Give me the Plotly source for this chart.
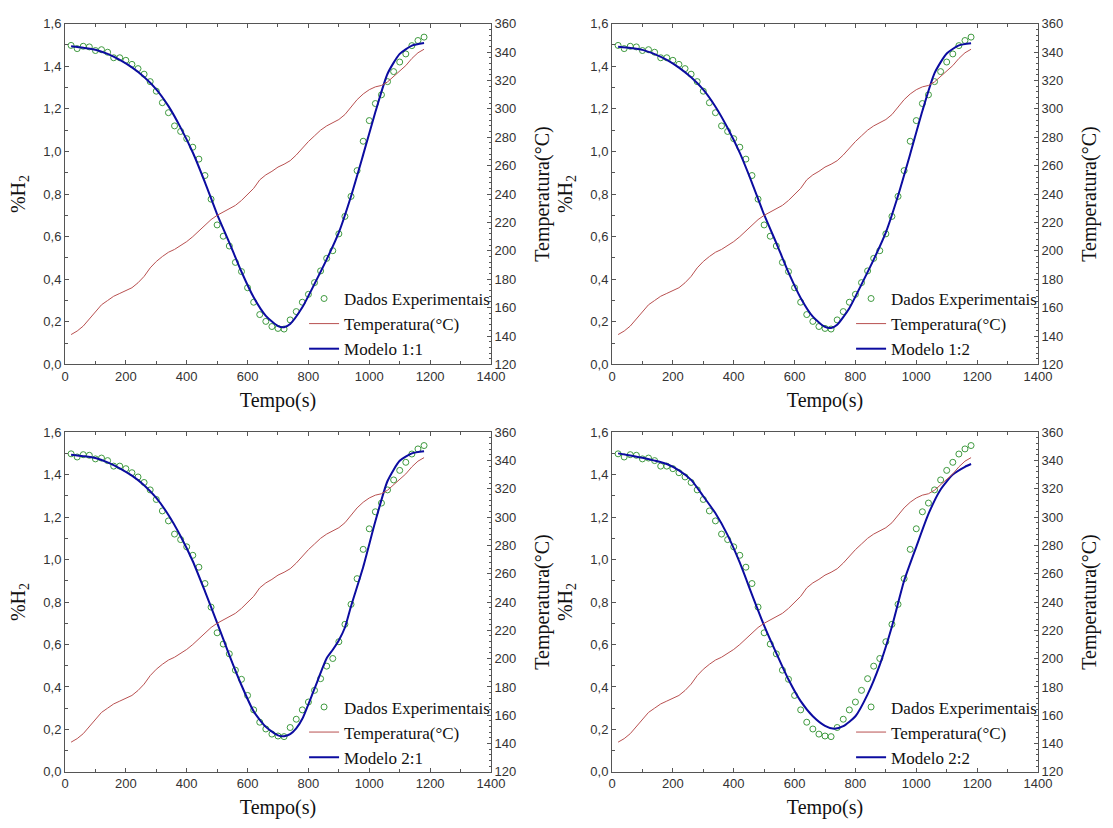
import plotly.graph_objects as go

# ---- experimental data (shared by all four panels) ----
tempo = [20, 40, 60, 80, 100, 120, 140, 160, 180, 200, 220, 240, 260, 280, 300,
         320, 340, 360, 380, 400, 420, 440, 460, 480, 500, 520, 540, 560, 580, 600,
         620, 640, 660, 680, 700, 720, 740, 760, 780, 800, 820, 840, 860, 880, 900,
         920, 940, 960, 980, 1000, 1020, 1040, 1060, 1080, 1100, 1120, 1140, 1160, 1180]

h2_exp = [1.498, 1.483, 1.494, 1.491, 1.474, 1.478, 1.466, 1.440, 1.440, 1.428,
          1.409, 1.389, 1.363, 1.328, 1.283, 1.229, 1.182, 1.120, 1.094, 1.060,
          1.020, 0.964, 0.887, 0.776, 0.655, 0.602, 0.556, 0.479, 0.436, 0.360,
          0.292, 0.234, 0.202, 0.178, 0.169, 0.166, 0.209, 0.248, 0.292, 0.329,
          0.384, 0.439, 0.498, 0.534, 0.613, 0.695, 0.789, 0.910, 1.048, 1.145,
          1.225, 1.266, 1.328, 1.375, 1.420, 1.458, 1.497, 1.521, 1.537]

temperatura = [141, 143.5, 147, 152, 157, 162, 165, 168, 170, 172,
               174, 177.5, 182, 188, 192.5, 196, 199, 201, 203.5, 206.5,
               210, 214, 218, 222, 225, 227.5, 230, 232, 235.5, 239.5,
               244, 250, 253.5, 256, 259, 261, 263.5, 267.5, 272.5, 277,
               281, 285, 288, 290, 292.5, 296, 301, 306.5, 310.5, 313.5,
               315.5, 316.5, 319, 323, 326.5, 330.5, 335.5, 339.5, 342]

# ---- model curves ----
t_m11 = [20, 60, 100, 140, 180, 220, 260, 300, 340, 380, 420, 460, 500, 540, 580,
         620, 660, 700, 720, 740, 780, 820, 860, 900, 940, 980, 1020, 1060, 1100,
         1140, 1180]
h2_m11 = [1.494, 1.487, 1.478, 1.458, 1.430, 1.395, 1.350, 1.292, 1.213, 1.112,
          0.995, 0.855, 0.705, 0.572, 0.435, 0.315, 0.228, 0.180, 0.175, 0.190,
          0.268, 0.378, 0.493, 0.620, 0.790, 0.985, 1.185, 1.365, 1.458, 1.497, 1.509]

t_m12 = [20, 60, 100, 140, 180, 220, 260, 300, 340, 380, 420, 460, 500, 540, 580,
         620, 660, 700, 720, 740, 780, 820, 860, 900, 940, 980, 1020, 1060, 1100,
         1140, 1180]
h2_m12 = [1.492, 1.486, 1.477, 1.457, 1.430, 1.394, 1.348, 1.290, 1.210, 1.110,
          0.993, 0.853, 0.703, 0.570, 0.432, 0.312, 0.224, 0.176, 0.171, 0.186,
          0.264, 0.376, 0.492, 0.620, 0.792, 0.988, 1.190, 1.368, 1.460, 1.498, 1.508]

t_m21 = [20, 60, 100, 140, 180, 220, 260, 300, 340, 380, 420, 460, 500, 540, 580,
         620, 660, 700, 720, 740, 760, 780, 820, 860, 880, 900, 920, 940, 980, 1020,
         1060, 1100, 1140, 1180]
h2_m21 = [1.494, 1.487, 1.478, 1.458, 1.430, 1.395, 1.350, 1.290, 1.210, 1.110,
          0.992, 0.850, 0.702, 0.550, 0.408, 0.285, 0.212, 0.172, 0.168, 0.178,
          0.205, 0.250, 0.392, 0.535, 0.575, 0.620, 0.680, 0.780, 0.965, 1.180,
          1.370, 1.465, 1.500, 1.510]

t_m22 = [20, 60, 100, 140, 180, 220, 260, 300, 340, 380, 420, 460, 500, 540, 580,
         620, 660, 700, 730, 760, 800, 840, 880, 920, 960, 1000, 1040, 1080, 1120,
         1160, 1180]
h2_m22 = [1.500, 1.490, 1.479, 1.466, 1.450, 1.420, 1.375, 1.298, 1.218, 1.115,
          0.985, 0.835, 0.689, 0.559, 0.435, 0.333, 0.262, 0.217, 0.203, 0.215,
          0.262, 0.365, 0.504, 0.685, 0.900, 1.060, 1.215, 1.330, 1.400, 1.437, 1.450]

modelos = [("Modelo 1:1", t_m11, h2_m11),
           ("Modelo 1:2", t_m12, h2_m12),
           ("Modelo 2:1", t_m21, h2_m21),
           ("Modelo 2:2", t_m22, h2_m22)]

# ---- styling ----
W, H = 1113, 828
COR_EXP = "#3f9a3f"
COR_TEMP = "#b85050"
COR_MOD = "#0c0ca0"
COR_EIXO = "#555555"
FONTE_TICK = dict(family="Liberation Sans", size=13, color="#333333")
FONTE_TIT = dict(family="Liberation Serif", size=20, color="#111111")
FONTE_LEG = dict(family="Liberation Serif", size=17, color="#111111")

# panel boxes in pixels: (left, right, top, bottom)
paineis = [(62, 495, 17, 364), (618, 1051, 17, 364),
           (62, 495, 433, 779), (618, 1051, 433, 779)]

fig = go.Figure()
layout = {}

for i, ((nome, t_mod, h_mod), (x0, x1, y0, y1)) in enumerate(zip(modelos, paineis)):
    k = i + 1
    xa = "x" if k == 1 else f"x{k}"
    ya = "y" if k == 1 else f"y{2 * k - 1}"
    yb = f"y{2 * k}"
    leg = "legend" if k == 1 else f"legend{k}"

    fig.add_trace(go.Scatter(
        x=tempo, y=h2_exp, mode="markers", name="Dados Experimentais",
        marker=dict(symbol="circle-open", size=6, color=COR_EXP, line=dict(width=1, color=COR_EXP)),
        xaxis=xa, yaxis=ya, legend=leg))
    fig.add_trace(go.Scatter(
        x=tempo, y=temperatura, mode="lines", name="Temperatura(°C)",
        line=dict(color=COR_TEMP, width=1),
        xaxis=xa, yaxis=yb, legend=leg))
    fig.add_trace(go.Scatter(
        x=t_mod, y=h_mod, mode="lines", name=nome,
        line=dict(color=COR_MOD, width=2, shape="spline", smoothing=0.6),
        xaxis=xa, yaxis=ya, legend=leg))

    dom_x = [x0 / W, x1 / W]
    dom_y = [1 - y1 / H, 1 - y0 / H]

    xkey = "xaxis" if k == 1 else f"xaxis{k}"
    yk1 = "yaxis" if k == 1 else f"yaxis{2 * k - 1}"
    yk2 = f"yaxis{2 * k}"

    layout[xkey] = dict(
        domain=dom_x, anchor=ya, range=[0, 1400], dtick=200, tick0=0,
        showgrid=False, zeroline=False, showline=True, linecolor=COR_EIXO, linewidth=1,
        mirror="ticks", ticks="inside", ticklen=4, tickcolor=COR_EIXO,
        minor=dict(dtick=100, ticks="inside", ticklen=3, tickcolor=COR_EIXO),
        tickfont=FONTE_TICK,
        title=dict(text="Tempo(s)", font=FONTE_TIT, standoff=9))
    layout[yk1] = dict(
        domain=dom_y, anchor=xa, range=[0, 1.6], dtick=0.2, tick0=0,
        tickformat=".1f",
        showgrid=False, zeroline=False, showline=True, linecolor=COR_EIXO, linewidth=1,
        ticks="inside", ticklen=4, tickcolor=COR_EIXO,
        minor=dict(dtick=0.1, ticks="inside", ticklen=3, tickcolor=COR_EIXO),
        tickfont=FONTE_TICK,
        title=dict(text="%H<sub>2</sub>", font=FONTE_TIT, standoff=12))
    layout[yk2] = dict(
        domain=dom_y, anchor=xa, overlaying=ya, side="right",
        range=[120, 360], dtick=20, tick0=120,
        showgrid=False, zeroline=False, showline=True, linecolor=COR_EIXO, linewidth=1,
        ticks="inside", ticklen=4, tickcolor=COR_EIXO,
        minor=dict(dtick=4, ticks="inside", ticklen=2, tickcolor=COR_EIXO),
        tickfont=FONTE_TICK,
        title=dict(text="Temperatura(°C)", font=FONTE_TIT, standoff=19))

    layout[leg] = dict(
        x=(x0 + 243) / W, y=1 - (y0 + 262) / H, xanchor="left", yanchor="top",
        bgcolor="rgba(255,255,255,0)", borderwidth=0, font=FONTE_LEG,
        tracegroupgap=0, itemwidth=30)

fig.update_layout(
    width=W, height=H, margin=dict(l=0, r=0, t=0, b=0),
    paper_bgcolor="white", plot_bgcolor="white",
    font=dict(family="Liberation Sans"),
    separators=",.", showlegend=True, **layout)

fig.write_html("out.html")
